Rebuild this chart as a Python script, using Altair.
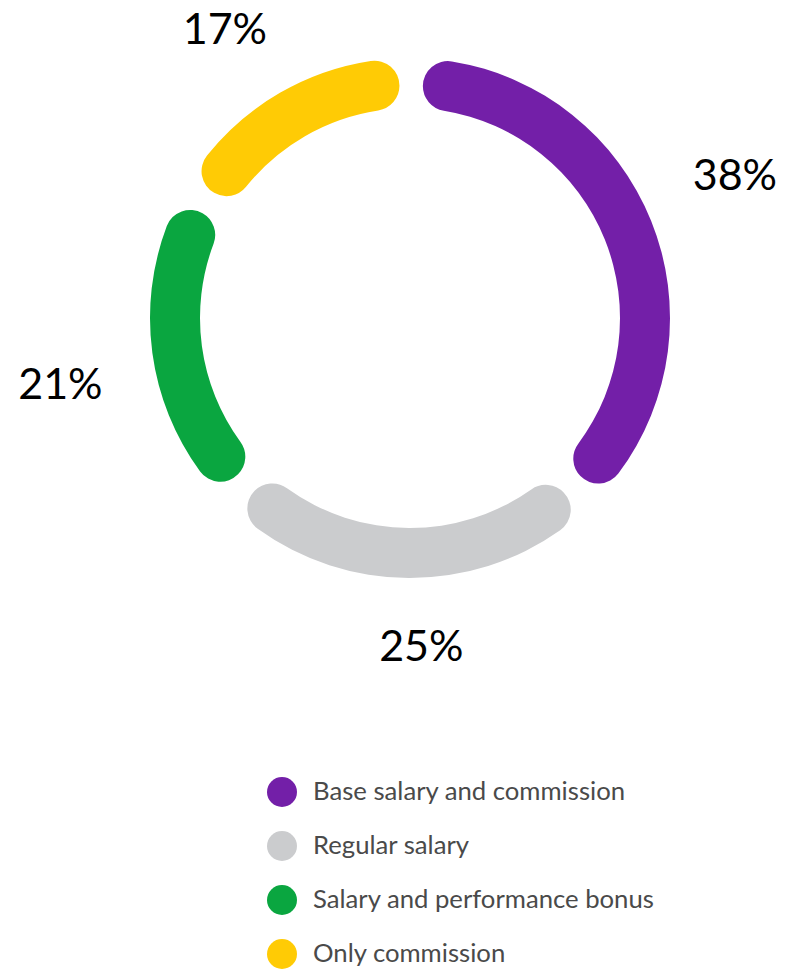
import altair as alt
import pandas as pd
import math

categories = ["Base salary and commission", "Regular salary", "Salary and performance bonus", "Only commission"]
values = [38, 25, 21, 17]
labels = ["38%", "25%", "21%", "17%"]
colors = ["#731FA8", "#CBCCCE", "#0AA640", "#FFCB05"]

df = pd.DataFrame({"category": categories, "value": values, "label": labels, "order": list(range(len(categories)))})

cx, cy = 402, 310
arc_start = 0.005
lab_start = -0.035

arcs = alt.Chart(df).mark_arc(
    outerRadius=260, innerRadius=210, cornerRadius=25, padAngle=0.07,
).encode(
    theta=alt.Theta("value:Q", stack=True,
                    scale=alt.Scale(range=[arc_start, 2 * math.pi + arc_start])),
    order=alt.Order("order:Q"),
    x=alt.value(cx), y=alt.value(cy),
    color=alt.Color(
        "category:N",
        scale=alt.Scale(domain=categories, range=colors),
        sort=categories,
        legend=alt.Legend(
            title=None, orient="none", legendX=259, legendY=769,
            symbolType="circle", symbolSize=900, symbolStrokeWidth=0,
            labelFontSize=25.7, labelFont="Lato", labelColor="#4a4a4a",
            labelOffset=16, rowPadding=24, padding=0, labelLimit=500,
        ),
    ),
)

text = alt.Chart(df).transform_joinaggregate(
    total="sum(value)"
).transform_window(
    cum="sum(value)", sort=[alt.SortField("order")], frame=[None, 0]
).transform_calculate(
    midv="datum.cum - datum.value / 2"
).transform_calculate(
    mid=f"datum.midv / datum.total * 2 * PI + ({lab_start})"
).transform_calculate(
    r="300 + 52 * abs(sin(datum.mid)) + 22 * abs(cos(datum.mid))"
).mark_text(
    fontSize=43, font="Lato", color="#000000", align="center", baseline="middle", dy=6,
).encode(
    theta=alt.Theta("midv:Q", stack=None,
                    scale=alt.Scale(domain=[0, sum(values)], range=[lab_start, 2 * math.pi + lab_start])),
    radius=alt.Radius("r:Q", scale=None),
    x=alt.value(cx), y=alt.value(cy),
    text="label:N",
)

chart = alt.layer(arcs, text).resolve_scale(theta="independent").properties(
    width=782, height=963, padding=0, autosize=alt.AutoSizeParams(type="none"),
).configure_view(stroke=None)

chart.save("out.html", embed_options={"renderer": "svg", "actions": False})
